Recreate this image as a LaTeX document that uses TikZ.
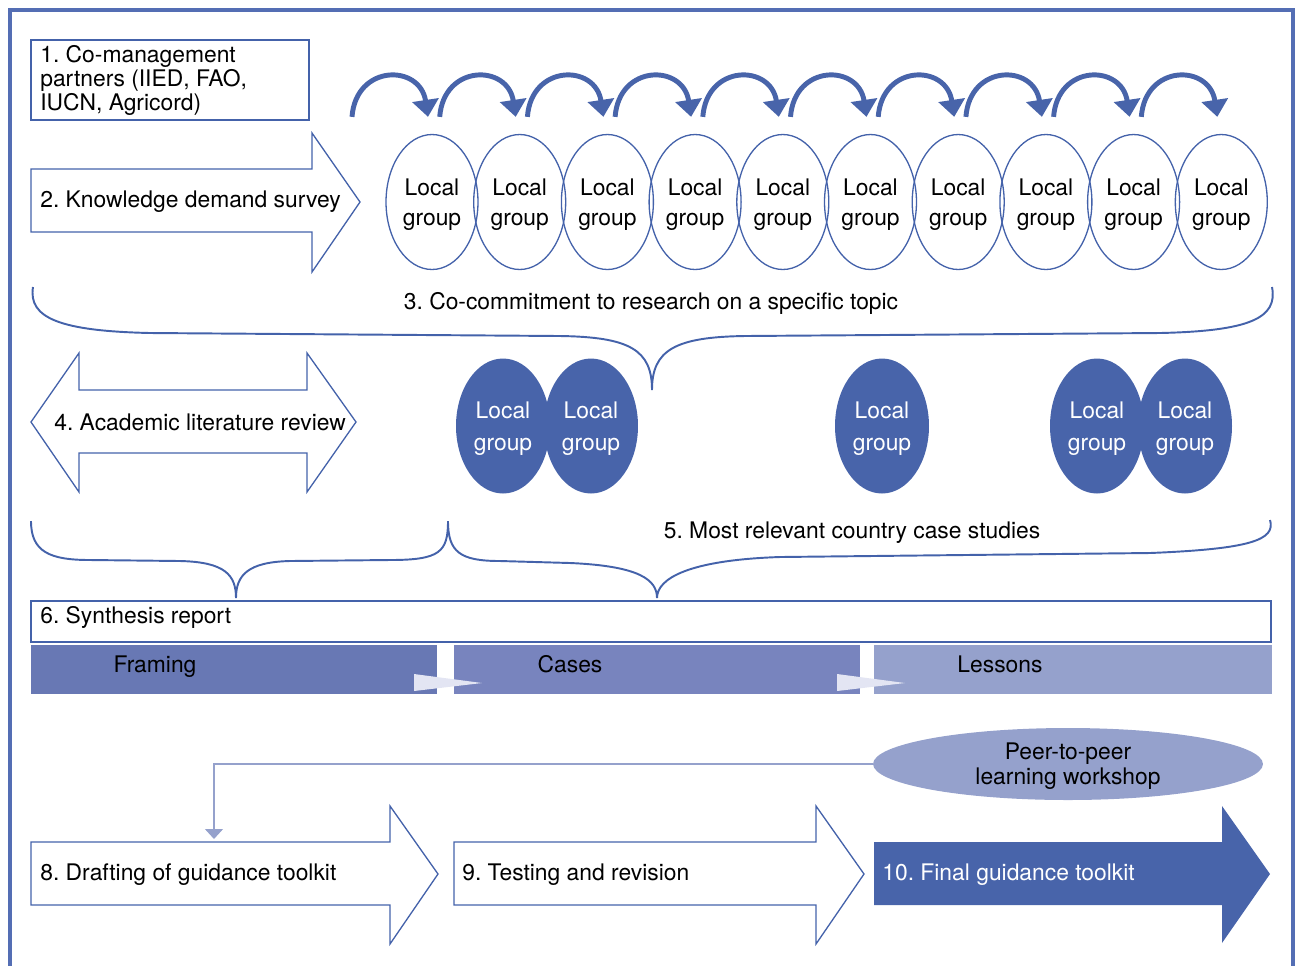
\documentclass[tikz,border=0pt]{standalone}
\usepackage{fontspec}
\setmainfont{TeX Gyre Heros}
\frenchspacing
\usetikzlibrary{shapes.geometric,arrows.meta,calc}
\definecolor{lineblue}{RGB}{68,98,170}
\definecolor{frameblue}{RGB}{84,110,180}
\definecolor{darkfill}{RGB}{72,100,170}
\definecolor{framingfill}{RGB}{104,120,180}
\definecolor{casesfill}{RGB}{120,132,190}
\definecolor{lessonsfill}{RGB}{149,161,204}
\definecolor{tipfill}{RGB}{227,229,243}

\begin{document}
\begin{tikzpicture}[x=0.02cm,y=-0.02cm]
\tikzstyle{every node}+=[inner sep=0pt,font=\fontsize{13}{13.6}\selectfont]
\tikzstyle{outline}=[draw=lineblue,line width=0.75pt]
\tikzstyle{curly}=[draw=lineblue,line width=1.1pt]
\tikzstyle{lgroup}=[ellipse,outline,minimum width=1.84cm,minimum height=2.7cm,align=center,text depth=0pt,font=\fontsize{13}{17}\selectfont]
\tikzstyle{fgroup}=[ellipse,fill=darkfill,text=white,minimum width=1.88cm,minimum height=2.7cm,align=center,text depth=0pt,font=\fontsize{13}{18.2}\selectfont]
\tikzstyle{hop}=[draw=darkfill,line width=2.8pt,-{Triangle[length=3.4mm,width=5.2mm]}]
\tikzstyle{feed}=[draw=lessonsfill,line width=0.6pt,-{Triangle[length=2mm,width=3.6mm]}]
\useasboundingbox (0,0) rectangle (1295,965);

% frame
\draw[frameblue,line width=1.8pt] (10,975) -- (10,10) -- (1293,10) -- (1293,975);

% 1 and 2
\draw[outline] (31,40) rectangle (309,120);
\node[anchor=north west,align=left] (partners) at (40,45) {1. Co-management\\partners (IIED, FAO,\\IUCN, Agricord)};
\draw[outline] (31,169) -- (312,169) -- (312,133) -- (360,202) -- (312,272) -- (312,232) -- (31,232) -- cycle;
\node[anchor=base west] (survey) at (40,207) {2. Knowledge demand survey};

% local groups
\foreach \i in {1,...,10}
  \node[lgroup] (g\i) at ({432+(\i-1)*87.7},202) {Local\\group};
\foreach \i in {1,...,10}
  \draw[hop] ($(g\i.north)+(-80,-17)$) .. controls ($(g\i.north)+(-76,-70)$) and ($(g\i.north)+(-12,-70)$) .. ($(g\i.north)+(-4,-17)$);

% 3
\draw[curly] (33,287) .. controls (28,318) and (60,331) .. (150,333) -- (560,336) .. controls (630,337) and (652,350) .. (652,390)
  .. controls (652,350) and (675,337) .. (745,336) -- (1160,333) .. controls (1250,331) and (1278,318) .. (1272,287);
\node[anchor=base] (commit) at (651,309) {3. Co-commitment to research on a specific topic};

% 4
\draw[outline] (31,422) -- (79,353) -- (79,390) -- (307,390) -- (307,353) -- (356,422) -- (307,492) -- (307,453) -- (79,453) -- (79,492) -- cycle;
\node[anchor=base west] (review) at (54,430) {4. Academic literature review};

% selected groups
\node[fgroup] (f1) at (503,426) {Local\\group};
\node[fgroup] (f2) at (591,426) {Local\\group};
\node[fgroup] (f3) at (882,426) {Local\\group};
\node[fgroup] (f4) at (1097,426) {Local\\group};
\node[fgroup] (f5) at (1185,426) {Local\\group};

% 5
\draw[curly] (31,521) .. controls (31,552) and (50,560) .. (90,560) -- (180,561) .. controls (225,562) and (236,575) .. (236,598)
  .. controls (236,575) and (248,562) .. (290,561) -- (390,560) .. controls (440,560) and (448,552) .. (448,521);
\draw[curly] (448,521) .. controls (448,552) and (460,561) .. (500,561) -- (570,563) .. controls (640,566) and (657,580) .. (657,598)
  .. controls (657,578) and (690,560) .. (780,557) -- (1150,553) .. controls (1250,549) and (1276,540) .. (1270,520);
\node[anchor=base] (cases5) at (852,538) {5. Most relevant country case studies};

% 6
\draw[outline] (31,601) rectangle (1271,642);
\node[anchor=base west] (synth) at (40,623) {6. Synthesis report};
\fill[framingfill] (31,645) rectangle (437,694);
\fill[casesfill] (454,645) rectangle (860,694);
\fill[lessonsfill] (874,645) rectangle (1272,694);
\fill[tipfill] (414,674) -- (482,683) -- (414,691) -- cycle;
\fill[tipfill] (837,674) -- (905,683) -- (837,691) -- cycle;
\node[anchor=base] (framing) at (155,672) {Framing};
\node[anchor=base] (cases) at (570,672) {Cases};
\node[anchor=base] (lessons) at (1000,672) {Lessons};

% workshop
\node[ellipse,fill=lessonsfill,minimum width=7.8cm,minimum height=1.44cm,align=center,text depth=0pt,font=\fontsize{13}{14.2}\selectfont] (peer) at (1068,764) {Peer-to-peer\\learning workshop};
\coordinate (draftin) at (214,839);
\draw[feed] (peer.west) -| (draftin);

% 8, 9, 10
\draw[outline] (31,842) -- (390,842) -- (390,806) -- (438,874) -- (390,944) -- (390,905) -- (31,905) -- cycle;
\node[anchor=base west] (draft) at (40,880) {8. Drafting of guidance toolkit};
\draw[outline] (454,842) -- (816,842) -- (816,806) -- (864,874) -- (816,944) -- (816,905) -- (454,905) -- cycle;
\node[anchor=base west] (testing) at (462,880) {9. Testing and revision};
\fill[darkfill] (874,842) -- (1222,842) -- (1222,806) -- (1270,874) -- (1222,943) -- (1222,905) -- (874,905) -- cycle;
\node[anchor=base west,text=white] (final) at (882,880) {10. Final guidance toolkit};
\end{tikzpicture}
\end{document}
